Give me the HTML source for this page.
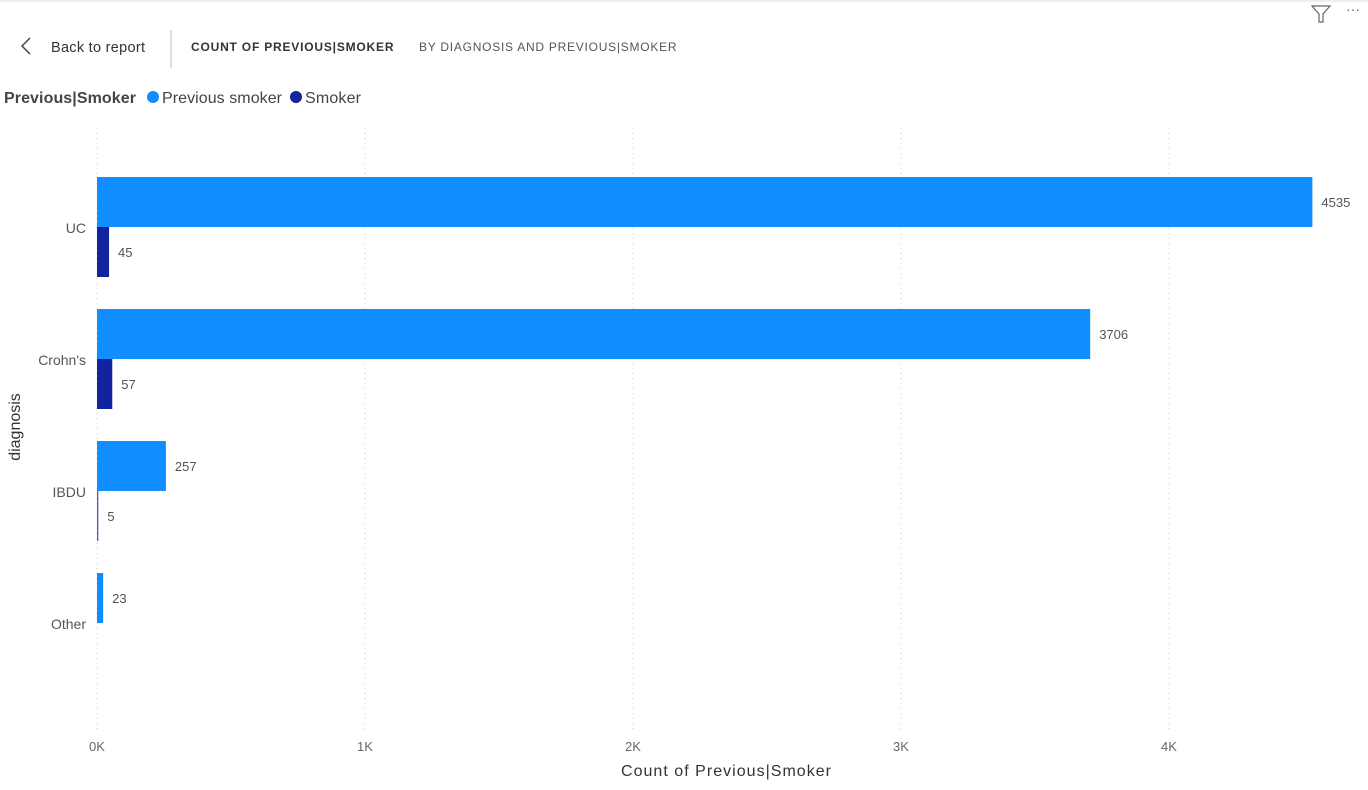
<!DOCTYPE html>
<html><head><meta charset="utf-8"><style>
body{margin:0;width:1368px;height:785px;background:#fff;overflow:hidden;font-family:"Liberation Sans",sans-serif;}
svg text{font-family:"Liberation Sans",sans-serif;}
</style></head><body>
<svg id="c" width="1368" height="785">
  <line x1="0" y1="1" x2="1368" y2="1" stroke="#eee" stroke-width="2"/>
  <g><path d="M1312 6 L1330 6 L1323 14 L1323 22 L1319 22 L1319 14 Z" fill="none" stroke="#666" stroke-width="1.2"/></g>
  <text x="1346" y="14" font-size="14" fill="#666">···</text>
  <g>
    <path d="M30 38 L22 46 L30 54" fill="none" stroke="#444" stroke-width="1.5"/>
    <text x="51" y="52" font-size="14.5" fill="#333" textLength="94">Back to report</text>
  </g>
  <line x1="171" y1="30" x2="171" y2="68" stroke="#bbb"/>
  <text x="191" y="51" font-size="12" font-weight="bold" fill="#333" textLength="203" letter-spacing="0.5">COUNT OF PREVIOUS|SMOKER</text>
  <text x="419" y="51" font-size="12" fill="#555" textLength="258" letter-spacing="0.5">BY DIAGNOSIS AND PREVIOUS|SMOKER</text>
  <text x="4" y="103" font-size="16" font-weight="bold" fill="#444" textLength="132">Previous|Smoker</text>
  <g><circle cx="153" cy="97" r="6" fill="#118DFF"/><text x="162" y="103" font-size="16" fill="#444" textLength="120">Previous smoker</text></g>
  <g><circle cx="296" cy="97" r="6" fill="#12239E"/><text x="305" y="103" font-size="16" fill="#444" textLength="56">Smoker</text></g>
  <g id="grid"></g><g id="bars"></g><g id="labels"></g>
  <text x="726" y="776" font-size="16" fill="#333" text-anchor="middle" textLength="210">Count of Previous|Smoker</text>
  <text transform="translate(20,427) rotate(-90)" font-size="16" fill="#333" text-anchor="middle">diagnosis</text>
</svg>
<script>
const categories=["UC","Crohn's","IBDU","Other"];
const previousSmoker=[4535,3706,257,23];
const smoker=[45,57,5,0];
const ticks=[0,1000,2000,3000,4000];
const tickLabels=["0K","1K","2K","3K","4K"];
const NS="http://www.w3.org/2000/svg";
const x0=97,pxPer=0.268,bandTop=161,band=132,barH=50;
function X(v){return x0+v*pxPer;}
function Y(i){return bandTop+i*band;}
function mk(t,a,p){const e=document.createElementNS(NS,t);for(const k in a)e.setAttribute(k,a[k]);document.getElementById(p).appendChild(e);return e;}
ticks.forEach((t,i)=>{
  const l=mk('line',{x1:X(t),x2:X(t),y1:128,y2:732,stroke:'#ccc','stroke-dasharray':'1,4'},'grid');
  
  
  const tx=mk('text',{x:X(t),y:751,'font-size':13,fill:'#666','text-anchor':'middle'},'labels');
  tx.textContent=tickLabels[i];
  
  
});
categories.forEach((c,i)=>{
  const top=Y(i)+16;
  const ct=mk('text',{x:86,y:top+barH+6,'font-size':14,fill:'#555','text-anchor':'end'},'labels');
  ct.textContent=c;
  
  
  [[previousSmoker,'#118DFF',0,'previous-smoker'],[smoker,'#12239E',barH,'smoker']].forEach(([arr,col,off,nm])=>{
    const v=arr[i]; if(!v)return;
    const w=Math.max(X(v)-x0,1);
    const r=mk('rect',{x:x0,y:top+off,width:w,height:barH,fill:(w<2?'#5a5ac0':col)},'bars');
    
    
    const t=mk('text',{x:x0+w+9,y:top+off+barH/2+5,'font-size':13,fill:'#555'},'labels');
    t.textContent=v;
    
    
  });
});
</script>
</body></html>
